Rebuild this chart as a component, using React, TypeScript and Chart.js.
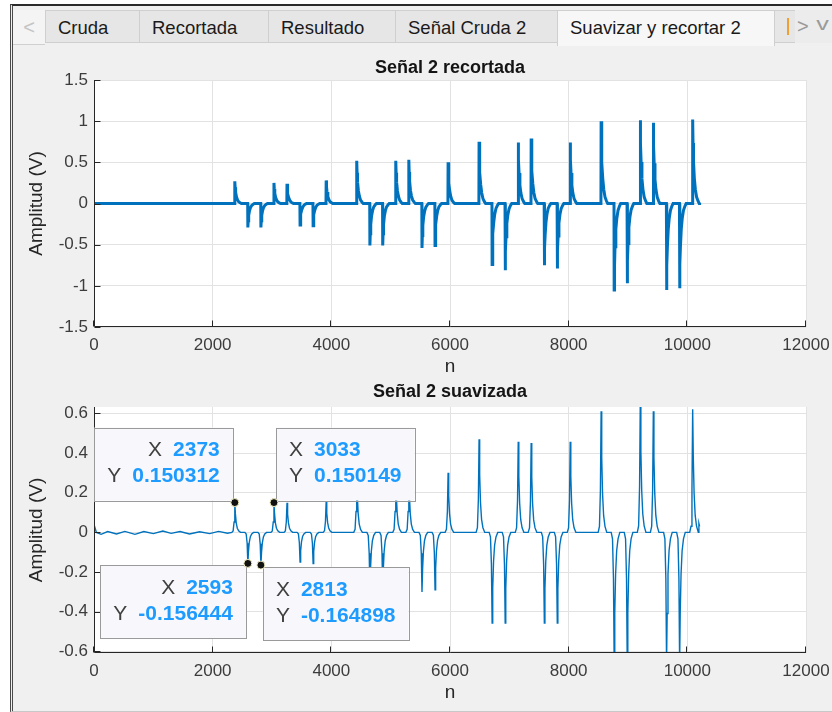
import React, { useEffect, useRef } from 'react';
import { Chart, registerables } from 'chart.js';

Chart.register(...registerables);

// ---------- data ----------
const tabLabels = ['Cruda', 'Recortada', 'Resultado', 'Señal Cruda 2', 'Suavizar y recortar 2'];
const selectedTab = 4;

const titleRaw = 'Señal 2 recortada';
const titleSmooth = 'Señal 2 suavizada';
const xLabel = 'n';
const yLabel = 'Amplitud (V)';

const xTicks = [0, 2000, 4000, 6000, 8000, 10000, 12000];
const yTicksRaw = [-1.5, -1, -0.5, 0, 0.5, 1, 1.5];
const yTicksSmooth = [-0.6, -0.4, -0.2, 0, 0.2, 0.4, 0.6];

// sample index of each pulse
const eventN = [
  2373, 2593, 2813, 3033, 3253, 3473, 3693, 3913,
  4428, 4650, 4866, 5086, 5306, 5528, 5748, 5968,
  6490, 6710, 6930, 7150, 7368, 7590, 7808, 8026,
  8547, 8767, 8987, 9207, 9427, 9650, 9870, 10090,
];
// pulse peak in the trimmed (raw) signal
const rawPeak = [
  0.27, -0.29, -0.29, 0.25, 0.24, -0.26, -0.27, 0.28,
  0.52, -0.51, -0.51, 0.52, 0.53, -0.54, -0.51, 0.5,
  0.75, -0.74, -0.81, 0.74, 0.79, -0.75, -0.79, 0.74,
  1.0, -1.05, -0.97, 1.01, 0.98, -1.05, -1.03, 1.02,
];
// pulse peak in the smoothed signal
const smoothPeak = [
  0.150312, -0.156444, -0.164898, 0.150149, 0.149, -0.15, -0.157, 0.157,
  0.3, -0.3, -0.3, 0.3, 0.3, -0.3, -0.29, 0.3,
  0.47, -0.457, -0.457, 0.457, 0.45, -0.457, -0.457, 0.457,
  0.61, -0.66, -0.66, 0.66, 0.61, -0.66, -0.66, 0.62,
];
// pulse profile (sample offset, fraction of the peak)
const rawShapeDn = [-3, 0, 6, 14, 28, 45, 65, 90, 110];
const rawShapeFrac = [0, 1, 0.72, 0.5, 0.3, 0.17, 0.08, 0.03, 0];
const smoothShapeDn = [-50, -28, -12, 0, 10, 24, 42, 65, 95];
const smoothShapeFrac = [0, 0.05, 0.35, 1, 0.62, 0.32, 0.14, 0.05, 0];

// baseline stretches
const rawBaseN = [0, 2300, 10207];
const rawBaseY = [0, 0, 0.01];
const smoothBaseN = [0, 40, 120, 230, 380, 520, 690, 840, 1000, 1160, 1300, 1450, 1610, 1780, 1950, 2100, 2250, 10195, 10207];
const smoothBaseY = [0.04, 0.0, -0.01, 0.004, -0.008, 0.005, -0.01, 0.004, -0.006, 0.007, -0.005, 0.004, -0.008, 0.003, -0.006, 0.005, -0.004, 0.045, 0.03];
const lastN = 10207;

// data tips on the smoothed plot
const tipN = [2373, 2593, 2813, 3033];
const tipY = [0.150312, -0.156444, -0.164898, 0.150149];
const tipYText = ['0.150312', '-0.156444', '-0.164898', '0.150149'];

// ---------- helpers ----------
type Pt = { x: number; y: number };
function buildSeries(peaks: number[], dn: number[], frac: number[], baseN: number[], baseY: number[]): Pt[] {
  const pts: Pt[] = [];
  baseN.forEach((n, i) => pts.push({ x: n, y: baseY[i] }));
  eventN.forEach((n, i) => dn.forEach((d, k) => {
    if (n + d <= lastN) pts.push({ x: n + d, y: peaks[i] * frac[k] });
  }));
  pts.sort((a, b) => a.x - b.x);
  return pts;
}

const FONT = '"Liberation Sans", Arial, Helvetica, sans-serif';
const BLUE = '#0072bd';

const plotBg = {
  id: 'plotBg',
  beforeDraw(chart: any) {
    const { ctx, chartArea: a } = chart;
    ctx.save();
    ctx.fillStyle = '#ffffff';
    ctx.fillRect(a.left, a.top, a.right - a.left, a.bottom - a.top);
    ctx.restore();
  },
};

const matlabAxes = {
  id: 'matlabAxes',
  afterDatasetsDraw(chart: any) {
    const { ctx, chartArea: a, scales } = chart;
    const x = scales.x, y = scales.y;
    ctx.save();
    ctx.strokeStyle = '#262626';
    ctx.lineWidth = 1;
    ctx.beginPath();
    const L = Math.round(a.left) + 0.5, B = Math.round(a.bottom) - 0.5;
    ctx.moveTo(L, a.top);
    ctx.lineTo(L, B);
    ctx.lineTo(a.right, B);
    x.ticks.forEach((t: any) => {
      const px = Math.round(x.getPixelForValue(t.value)) - 0.5;
      ctx.moveTo(px, B);
      ctx.lineTo(px, B - 6);
    });
    y.ticks.forEach((t: any) => {
      const py = Math.round(y.getPixelForValue(t.value)) + 0.5;
      ctx.moveTo(L, py);
      ctx.lineTo(L + 6, py);
    });
    ctx.stroke();
    ctx.restore();
  },
};

const plotTitle = {
  id: 'plotTitle',
  afterDraw(chart: any, _args: any, opts: any) {
    const { ctx, chartArea: a } = chart;
    ctx.save();
    ctx.font = `bold ${opts.size}px ${FONT}`;
    ctx.fillStyle = '#141414';
    ctx.textAlign = 'center';
    ctx.textBaseline = 'middle';
    ctx.fillText(opts.text, (a.left + a.right) / 2, opts.y);
    ctx.restore();
  },
};

const tipPlacement = ['ul', 'dl', 'dr', 'ur'];
const dataTips = {
  id: 'dataTips',
  afterDatasetsDraw(chart: any) {
    const { ctx, scales } = chart;
    const xs = scales.x, ys = scales.y;
    const fs = 21;
    ctx.save();
    const marks: Pt[] = [];
    tipN.forEach((n, i) => {
      const mx = xs.getPixelForValue(n);
      const my = ys.getPixelForValue(tipY[i]);
      marks.push({ x: mx, y: my });
      const xStr = String(n), yStr = tipYText[i];
      ctx.font = `bold ${fs}px ${FONT}`;
      const w1 = ctx.measureText(xStr).width;
      const w2 = ctx.measureText(yStr).width;
      ctx.font = `${fs}px ${FONT}`;
      const wl = Math.max(ctx.measureText('X').width, ctx.measureText('Y').width);
      const gap = 11;
      const boxW = 13 + wl + gap + Math.max(w1, w2) + 13;
      const boxH = 73;
      const pl = tipPlacement[i];
      const left = pl[1] === 'l' ? mx - 2 - boxW : mx + 2;
      const top = pl[0] === 'u' ? my - 2 - boxH : my + 2;
      ctx.fillStyle = '#f8f8fc';
      ctx.fillRect(left, top, boxW, boxH);
      ctx.strokeStyle = '#9a9a9a';
      ctx.lineWidth = 1;
      ctx.strokeRect(Math.round(left) + 0.5, Math.round(top) + 0.5, Math.round(boxW), boxH);
      const rows = [
        { lab: 'X', val: xStr, w: w1, cy: top + 23 },
        { lab: 'Y', val: yStr, w: w2, cy: top + 49 },
      ];
      ctx.textBaseline = 'middle';
      rows.forEach((r) => {
        let valLeft: number, labRight: number;
        if (pl[1] === 'l') {
          valLeft = left + boxW - 13 - r.w;
          labRight = valLeft - gap;
        } else {
          labRight = left + 13 + wl;
          valLeft = labRight + gap;
        }
        ctx.font = `${fs}px ${FONT}`;
        ctx.fillStyle = '#404040';
        ctx.textAlign = pl[1] === 'l' ? 'right' : 'left';
        ctx.fillText(r.lab, pl[1] === 'l' ? labRight : left + 13, r.cy);
        ctx.font = `bold ${fs}px ${FONT}`;
        ctx.fillStyle = '#1e9bff';
        ctx.textAlign = 'left';
        ctx.fillText(r.val, valLeft, r.cy);
      });
    });
    marks.forEach((m) => {
      ctx.beginPath();
      ctx.arc(m.x, m.y, 4, 0, Math.PI * 2);
      ctx.fillStyle = '#111111';
      ctx.fill();
      ctx.strokeStyle = '#f4f0c0';
      ctx.lineWidth = 1;
      ctx.stroke();
    });
    ctx.restore();
  },
};

function makeConfig(opts: {
  data: Pt[];
  lineWidth: number;
  yMin: number;
  yMax: number;
  yTicks: number[];
  title: string;
  titleY: number;
  padTop: number;
  padBottom: number;
  tips: boolean;
}): any {
  const tickFont = { family: FONT, size: 17 };
  const fmt = (v: any) => String(Math.round(Number(v) * 1000) / 1000);
  return {
    type: 'line',
    data: {
      datasets: [
        {
          data: opts.data,
          borderColor: BLUE,
          borderWidth: opts.lineWidth,
          pointRadius: 0,
          tension: 0,
          fill: false,
        },
      ],
    },
    options: {
      animation: false,
      responsive: false,
      events: [],
      layout: { padding: { left: 0, right: 26, top: opts.padTop, bottom: opts.padBottom } },
      plugins: {
        legend: { display: false },
        tooltip: { enabled: false },
        title: { display: false },
        plotTitle: { text: opts.title, y: opts.titleY, size: 18 },
      },
      scales: {
        x: {
          type: 'linear',
          min: xTicks[0],
          max: xTicks[xTicks.length - 1],
          afterBuildTicks: (s: any) => { s.ticks = xTicks.map((v) => ({ value: v })); },
          afterFit: (s: any) => { s.height = 51.4; s.paddingLeft = 0; s.paddingRight = 0; },
          grid: { color: '#e2e2e2', lineWidth: 1, drawTicks: false },
          border: { display: false },
          ticks: { font: tickFont, color: '#3c3c3c', padding: 8, maxRotation: 0, autoSkip: false, callback: fmt },
          title: { display: true, text: xLabel, font: { family: FONT, size: 19 }, color: '#262626', padding: { top: 0, bottom: 0 } },
        },
        y: {
          type: 'linear',
          min: opts.yMin,
          max: opts.yMax,
          afterBuildTicks: (s: any) => { s.ticks = opts.yTicks.map((v) => ({ value: v })); },
          afterFit: (s: any) => { s.width = 94; s.paddingTop = 0; s.paddingBottom = 0; },
          grid: { color: '#e2e2e2', lineWidth: 1, drawTicks: false },
          border: { display: false },
          ticks: { font: tickFont, color: '#3c3c3c', padding: 6, autoSkip: false, callback: fmt },
          title: { display: true, text: yLabel, font: { family: FONT, size: 19 }, color: '#262626', padding: { top: 25.6, bottom: 0 } },
        },
      },
    },
    plugins: opts.tips ? [plotBg, matlabAxes, plotTitle, dataTips] : [plotBg, matlabAxes, plotTitle],
  };
}

function ChartCanvas({ config, top, height }: { config: () => any; top: number; height: number }) {
  const ref = useRef<HTMLCanvasElement | null>(null);
  useEffect(() => {
    if (!ref.current) return;
    const chart = new Chart(ref.current, config());
    return () => chart.destroy();
  }, []);
  return (
    <canvas
      ref={ref}
      width={832}
      height={height}
      style={{ position: 'absolute', left: 0, top, width: 832, height, display: 'block' }}
    />
  );
}

const tabBounds = [45, 139, 268, 395, 557, 775];

export default function App() {
  const rawData = buildSeries(rawPeak, rawShapeDn, rawShapeFrac, rawBaseN, rawBaseY);
  const smoothData = buildSeries(smoothPeak, smoothShapeDn, smoothShapeFrac, smoothBaseN, smoothBaseY);

  return (
    <div
      style={{
        position: 'fixed',
        left: 0,
        top: 0,
        width: 832,
        height: 712,
        background: '#ffffff',
        overflow: 'hidden',
        fontFamily: FONT,
      }}
    >
      {/* window frame + panel */}
      <div
        style={{
          position: 'absolute',
          left: 10,
          top: 4,
          width: 840,
          height: 705,
          borderTop: '2px solid #2b2b2b',
          borderLeft: '3px double #4a4a4a',
          borderBottom: '1px solid #c8c8c8',
          background: '#f0f0f0',
        }}
      />
      {/* left scroll button */}
      <div
        style={{
          position: 'absolute', left: 13, top: 10, width: 32, height: 34,
          background: '#f4f4f4', borderBottom: '1px solid #d0d0d0',
          color: '#c4c4c4', fontSize: 20, lineHeight: '34px', textAlign: 'center',
        }}
      >
        {'<'}
      </div>
      {tabLabels.map((t, i) => {
        const sel = i === selectedTab;
        return (
          <div
            key={t}
            style={{
              position: 'absolute',
              left: tabBounds[i],
              top: 10,
              width: tabBounds[i + 1] - tabBounds[i],
              height: sel ? 36 : 33,
              boxSizing: 'border-box',
              background: sel ? '#f7f7f7' : '#e6e6e6',
              borderTop: '1px solid #cfcfcf',
              borderLeft: '1px solid #cfcfcf',
              borderRight: i === tabLabels.length - 1 ? '1px solid #cfcfcf' : 'none',
              borderBottom: sel ? 'none' : '1px solid #cfcfcf',
              color: '#1a1a1a',
              fontSize: 18.5,
              lineHeight: '33px',
              textAlign: 'left',
              paddingLeft: 12,
              whiteSpace: 'nowrap',
            }}
          >
            {t}
          </div>
        );
      })}
      {/* partially visible next tab + scroll buttons */}
      <div
        style={{
          position: 'absolute', left: 775, top: 10, width: 80, height: 33,
          boxSizing: 'border-box', background: '#e6e6e6',
          borderTop: '1px solid #cfcfcf', borderBottom: '1px solid #cfcfcf',
        }}
      />
      <div style={{ position: 'absolute', left: 787, top: 18, width: 2, height: 17, background: '#f0a030' }} />
      <div style={{ position: 'absolute', left: 795, top: 10, width: 40, height: 33, background: '#ececec' }} />
      <div style={{ position: 'absolute', left: 797, top: 10, color: '#9a9a9a', fontSize: 20, lineHeight: '33px' }}>{'>'}</div>
      <div style={{ position: 'absolute', left: 818, top: 8, color: '#9a9a9a', fontSize: 18, lineHeight: '33px', transform: 'scaleX(1.4)' }}>{'v'}</div>

      <ChartCanvas
        top={50}
        height={330}
        config={() =>
          makeConfig({
            data: rawData,
            lineWidth: 3,
            yMin: yTicksRaw[0],
            yMax: yTicksRaw[yTicksRaw.length - 1],
            yTicks: yTicksRaw,
            title: titleRaw,
            titleY: 18,
            padTop: 30,
            padBottom: 1.6,
            tips: false,
          })
        }
      />
      <ChartCanvas
        top={380}
        height={332}
        config={() =>
          makeConfig({
            data: smoothData,
            lineWidth: 1.4,
            yMin: -0.608,
            yMax: 0.632,
            yTicks: yTicksSmooth,
            title: titleSmooth,
            titleY: 12,
            padTop: 27,
            padBottom: 7.6,
            tips: true,
          })
        }
      />
    </div>
  );
}
